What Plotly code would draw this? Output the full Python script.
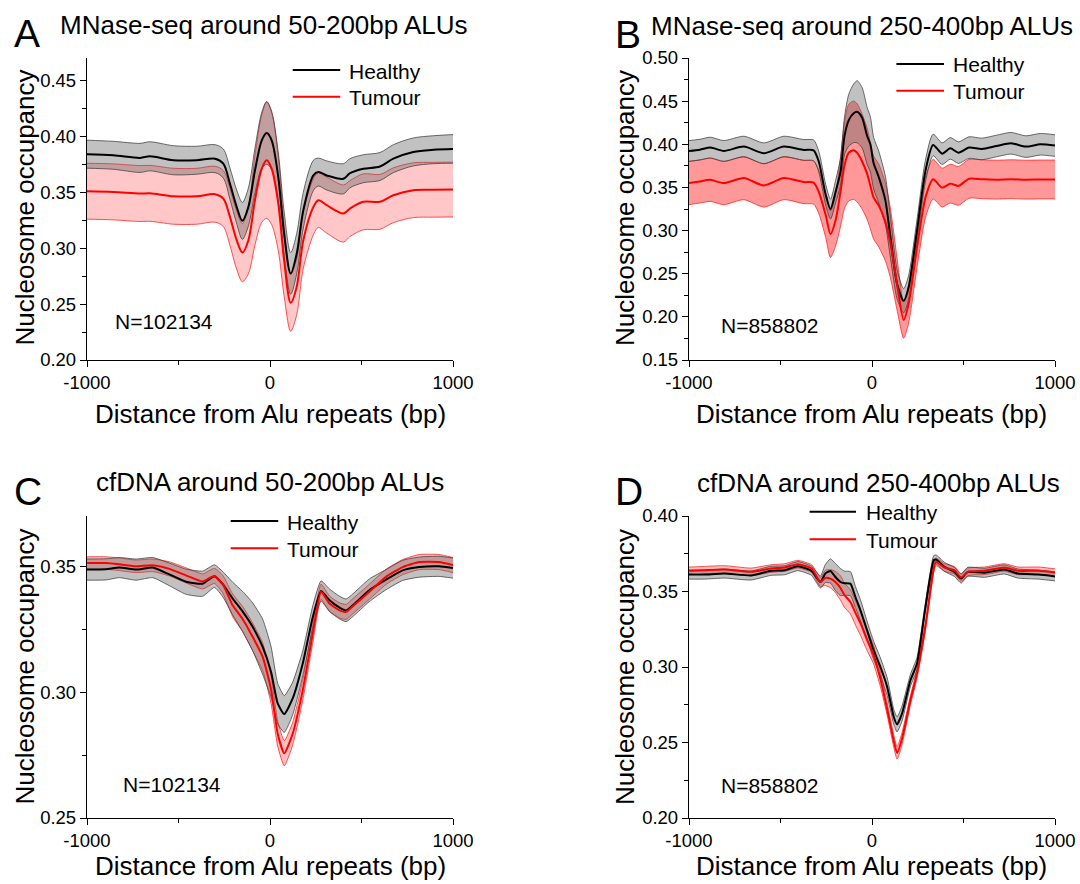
import plotly.graph_objects as go

W, H = 1080, 884
FONT = "Arial, 'Liberation Sans', Helvetica, sans-serif"


def px(x):
    return x / W


def py(y):
    return 1 - y / H


# ---------------- Panel A : MNase-seq around 50-200bp ALUs ----------------
xA = [-1000, -856, -710, -656, -528, -400, -300, -255, -219, -182, -151, -118, -82, -45, -18, 9,
      45, 77, 113, 146, 182, 237, 264, 310, 401, 437, 510, 601, 674, 783, 893, 1000]
healthyA = [0.384, 0.383, 0.3807, 0.3821, 0.3786, 0.3786, 0.380, 0.3756, 0.3577, 0.3369, 0.3244,
            0.3369, 0.3696, 0.3964, 0.403, 0.3964, 0.3637, 0.313, 0.2774, 0.2952, 0.3339, 0.365,
            0.368, 0.365, 0.362, 0.367, 0.371, 0.373, 0.380, 0.386, 0.388, 0.3887]
healthyA_err = [0.0125, 0.0125, 0.013, 0.013, 0.013, 0.0125, 0.0125, 0.013, 0.014, 0.015, 0.0165,
                0.017, 0.02, 0.025, 0.028, 0.026, 0.022, 0.02, 0.0186, 0.018, 0.016, 0.0135,
                0.0125, 0.013, 0.0135, 0.013, 0.0125, 0.0125, 0.0125, 0.0125, 0.0125, 0.0128]
tumourA = [0.3509, 0.3503, 0.3488, 0.349, 0.3464, 0.3464, 0.3482, 0.3443, 0.328, 0.3071, 0.296,
           0.3071, 0.3429, 0.3711, 0.3786, 0.3711, 0.34, 0.2893, 0.2512, 0.2655, 0.3071, 0.3369,
           0.3429, 0.3384, 0.331, 0.3354, 0.3414, 0.3414, 0.3473, 0.3518, 0.3522, 0.3524]
tumourA_err = [0.025, 0.025, 0.025, 0.025, 0.025, 0.025, 0.025, 0.025, 0.0255, 0.026, 0.026,
               0.03, 0.04, 0.048, 0.052, 0.05, 0.042, 0.032, 0.0255, 0.025, 0.025, 0.025,
               0.0245, 0.025, 0.0255, 0.025, 0.025, 0.0245, 0.0245, 0.0245, 0.0245, 0.0245]

# ---------------- Panel B : MNase-seq around 250-400bp ALUs ----------------
xB = [-1000, -940, -883, -810, -700, -591, -482, -373, -319, -291, -253, -227, -199, -172, -150,
      -127, -100, -81, -54, -27, -9, 9, 37, 73, 101, 137, 173, 200, 246, 292, 334, 383, 428, 473,
      530, 600, 680, 760, 840, 920, 1000]
healthyB = [0.3923, 0.3938, 0.3962, 0.3923, 0.3973, 0.3896, 0.3973, 0.3935, 0.3930, 0.380,
            0.3415, 0.3248, 0.345, 0.368, 0.41, 0.428, 0.436, 0.4377, 0.4308, 0.410,
            0.400, 0.378, 0.362, 0.335, 0.292, 0.238, 0.2186, 0.234, 0.2997, 0.3691,
            0.3992, 0.3891, 0.3953, 0.3903, 0.3962, 0.3946, 0.398, 0.4012, 0.3973, 0.400,
            0.3985]
healthyB_err = [0.012, 0.012, 0.012, 0.012, 0.012, 0.012, 0.012, 0.012, 0.012, 0.012,
                0.012, 0.0115, 0.013, 0.016, 0.022, 0.03, 0.034, 0.036, 0.035, 0.033,
                0.032, 0.03, 0.03, 0.028, 0.024, 0.017, 0.014, 0.014, 0.013, 0.0125,
                0.0125, 0.0125, 0.0125, 0.0125, 0.0125, 0.0125, 0.0125, 0.0125, 0.0125, 0.0125,
                0.0125]
tumourB = [0.355, 0.357, 0.3588, 0.355, 0.3608, 0.3523, 0.3608, 0.3562, 0.3556, 0.345,
           0.318, 0.2958, 0.312, 0.345, 0.376, 0.3903, 0.3931, 0.390, 0.380, 0.366,
           0.352, 0.3382, 0.329, 0.310, 0.285, 0.238, 0.1963, 0.2148, 0.2803, 0.3382,
           0.3595, 0.3498, 0.3544, 0.3518, 0.360, 0.3595, 0.359, 0.3595, 0.359, 0.3592,
           0.3592]
tumourB_err = [0.025, 0.025, 0.025, 0.025, 0.025, 0.025, 0.025, 0.025, 0.025, 0.025,
               0.026, 0.027, 0.03, 0.04, 0.05, 0.056, 0.057, 0.057, 0.055, 0.053,
               0.05, 0.048, 0.048, 0.045, 0.04, 0.03, 0.021, 0.022, 0.023, 0.0235,
               0.023, 0.0225, 0.0225, 0.0225, 0.0225, 0.0225, 0.0225, 0.0225, 0.0225, 0.0225,
               0.0225]

# ---------------- Panel C : cfDNA around 50-200bp ALUs ----------------
xC = [-1000, -896, -823, -732, -641, -550, -459, -368, -304, -258, -204, -149, -95, -40, 6, 42,
      78, 124, 179, 234, 279, 325, 380, 416, 452, 543, 634, 725, 816, 923, 1000]
healthyC = [0.3487, 0.3488, 0.3495, 0.3487, 0.3495, 0.3468, 0.3439, 0.3431, 0.3461, 0.3429,
            0.3372, 0.332, 0.326, 0.318, 0.308, 0.2955, 0.2913, 0.2975, 0.3114, 0.3299,
            0.3402, 0.3365, 0.3336, 0.3325, 0.3345, 0.3405, 0.3447, 0.3484, 0.3497, 0.35,
            0.3493]
healthyC_err = [0.0042, 0.0042, 0.004, 0.0042, 0.004, 0.0045, 0.005, 0.005, 0.0045, 0.005,
                0.0065, 0.008, 0.0095, 0.011, 0.01, 0.008, 0.0073, 0.0065, 0.005, 0.0045,
                0.004, 0.0045, 0.0045, 0.0045, 0.0045, 0.0045, 0.004, 0.004, 0.004, 0.004,
                0.004]
tumourC = [0.3513, 0.3513, 0.3508, 0.35, 0.3504, 0.349, 0.3464, 0.344, 0.3462, 0.3429,
           0.3345, 0.329, 0.322, 0.314, 0.301, 0.2835, 0.2757, 0.2835, 0.3008, 0.3233,
           0.3399, 0.3352, 0.3325, 0.3319, 0.3341, 0.3399, 0.3458, 0.3497, 0.3517, 0.3517,
           0.3505]
tumourC_err = [0.0025, 0.0025, 0.0025, 0.0025, 0.0025, 0.0028, 0.003, 0.003, 0.003, 0.0035,
               0.0045, 0.005, 0.0055, 0.0055, 0.0055, 0.005, 0.005, 0.0045, 0.004, 0.0035,
               0.003, 0.003, 0.003, 0.003, 0.003, 0.003, 0.003, 0.003, 0.003, 0.003,
               0.003]

# ---------------- Panel D : cfDNA around 250-400bp ALUs ----------------
xD = [-1000, -916, -806, -661, -552, -477, -405, -330, -282, -255, -227, -200, -173, -150, -118,
      -91, -63, -27, 9, 46, 83, 119, 137, 164, 210, 246, 292, 337, 350, 396, 450, 487, 523, 615,
      724, 797, 910, 1000]
healthyD = [0.3612, 0.3612, 0.3619, 0.3606, 0.3637, 0.3641, 0.3668, 0.3637, 0.3563, 0.3619,
            0.3636, 0.3596, 0.3563, 0.3555, 0.3552, 0.3464, 0.3375, 0.3243, 0.311, 0.300,
            0.2868, 0.2669, 0.262, 0.2691, 0.2912, 0.3023, 0.3397, 0.3707, 0.3712, 0.3663,
            0.363, 0.3586, 0.363, 0.3624, 0.3646, 0.3619, 0.3612, 0.360]
healthyD_err = [0.003, 0.003, 0.003, 0.003, 0.003, 0.003, 0.003, 0.003, 0.004, 0.006,
                0.008, 0.009, 0.009, 0.008, 0.008, 0.007, 0.007, 0.006, 0.006, 0.006,
                0.006, 0.005, 0.005, 0.005, 0.004, 0.004, 0.003, 0.003, 0.003, 0.003,
                0.003, 0.003, 0.003, 0.003, 0.003, 0.003, 0.003, 0.003]
tumourD = [0.3637, 0.3641, 0.3646, 0.363, 0.3652, 0.3659, 0.3681, 0.3652, 0.3563, 0.359,
           0.3585, 0.3563, 0.3525, 0.3475, 0.3431, 0.336, 0.329, 0.318, 0.308, 0.292,
           0.272, 0.251, 0.243, 0.2525, 0.278, 0.2956, 0.327, 0.365, 0.3696, 0.3659,
           0.3641, 0.3593, 0.363, 0.3637, 0.3659, 0.3637, 0.3637, 0.3625]
tumourD_err = [0.0025, 0.0025, 0.0025, 0.0025, 0.0025, 0.0025, 0.0025, 0.0025, 0.003, 0.005,
               0.006, 0.007, 0.008, 0.008, 0.008, 0.008, 0.008, 0.007, 0.006, 0.005,
               0.004, 0.004, 0.004, 0.004, 0.003, 0.003, 0.0025, 0.0025, 0.0025, 0.0025,
               0.0025, 0.0025, 0.0025, 0.0025, 0.0025, 0.0025, 0.0025, 0.0025]

series_names = ["Healthy", "Tumour"]
panel_titles = ["MNase-seq around 50-200bp ALUs", "MNase-seq around 250-400bp ALUs",
                "cfDNA around 50-200bp ALUs", "cfDNA around 250-400bp ALUs"]
panel_letters = ["A", "B", "C", "D"]
n_labels = ["N=102134", "N=858802", "N=102134", "N=858802"]
y_ranges = [[0.20, 0.47], [0.15, 0.50], [0.25, 0.37], [0.20, 0.40]]
x_title = "Distance from Alu repeats (bp)"
y_title = "Nucleosome occupancy"

panels = [
    dict(x=xA, h=healthyA, he=healthyA_err, t=tumourA, te=tumourA_err, ax="", tfill="rgba(255,0,0,0.22)", sm=0.9),
    dict(x=xB, h=healthyB, he=healthyB_err, t=tumourB, te=tumourB_err, ax="2", tfill="rgba(255,0,0,0.40)", sm=0.7),
    dict(x=xC, h=healthyC, he=healthyC_err, t=tumourC, te=tumourC_err, ax="3", tfill="rgba(255,0,0,0.25)", sm=0.5),
    dict(x=xD, h=healthyD, he=healthyD_err, t=tumourD, te=tumourD_err, ax="4", tfill="rgba(255,0,0,0.25)", sm=0.5),
]

fig = go.Figure()

for p in panels:
    xa, ya = "x" + p["ax"], "y" + p["ax"]
    sm = p["sm"]
    # tumour band
    t_lo = [m - e for m, e in zip(p["t"], p["te"])]
    t_hi = [m + e for m, e in zip(p["t"], p["te"])]
    fig.add_trace(go.Scatter(x=p["x"], y=t_lo, mode="lines", xaxis=xa, yaxis=ya,
                             line=dict(color="rgba(255,40,40,0.8)", width=1, shape="spline", smoothing=sm),
                             showlegend=False, hoverinfo="skip"))
    fig.add_trace(go.Scatter(x=p["x"], y=t_hi, mode="lines", xaxis=xa, yaxis=ya, fill="tonexty",
                             fillcolor=p["tfill"],
                             line=dict(color="rgba(255,40,40,0.8)", width=1, shape="spline", smoothing=sm),
                             showlegend=False, hoverinfo="skip"))
    # healthy band
    h_lo = [m - e for m, e in zip(p["h"], p["he"])]
    h_hi = [m + e for m, e in zip(p["h"], p["he"])]
    fig.add_trace(go.Scatter(x=p["x"], y=h_lo, mode="lines", xaxis=xa, yaxis=ya,
                             line=dict(color="rgba(60,60,60,0.75)", width=1, shape="spline", smoothing=sm),
                             showlegend=False, hoverinfo="skip"))
    fig.add_trace(go.Scatter(x=p["x"], y=h_hi, mode="lines", xaxis=xa, yaxis=ya, fill="tonexty",
                             fillcolor="rgba(100,100,100,0.40)",
                             line=dict(color="rgba(60,60,60,0.75)", width=1, shape="spline", smoothing=sm),
                             showlegend=False, hoverinfo="skip"))
    # means
    fig.add_trace(go.Scatter(x=p["x"], y=p["h"], mode="lines", xaxis=xa, yaxis=ya, name=series_names[0],
                             line=dict(color="black", width=2, shape="spline", smoothing=sm),
                             showlegend=False))
    fig.add_trace(go.Scatter(x=p["x"], y=p["t"], mode="lines", xaxis=xa, yaxis=ya, name=series_names[1],
                             line=dict(color="#ff0000", width=2, shape="spline", smoothing=sm),
                             showlegend=False))

x_domains = [[87 / W, 453 / W], [689 / W, 1055 / W], [87 / W, 453 / W], [689 / W, 1055 / W]]
y_domains = [[py(360), py(58)], [py(360), py(58)], [py(818), py(516)], [py(818), py(516)]]

tickfont = dict(size=18.5, family=FONT, color="black")
layout = dict(template="none", width=W, height=H,
              margin=dict(l=0, r=0, t=0, b=0, pad=0, autoexpand=False), autosize=False,
              paper_bgcolor="white", plot_bgcolor="white", showlegend=False,
              font=dict(family=FONT, color="black"))
for i, suf in enumerate(["", "2", "3", "4"]):
    layout["xaxis" + suf] = dict(
        domain=x_domains[i], anchor="y" + suf, range=[-1000, 1000], automargin=False,
        tickmode="array", tickvals=[-1000, 0, 1000], ticktext=["-1000", "0", "1000"],
        showline=True, linecolor="black", linewidth=1.3, ticks="outside", ticklen=6,
        tickwidth=1.3, tickcolor="black", showgrid=False, zeroline=False, tickfont=tickfont,
        minor=dict(tickmode="array", tickvals=[-500, 500], ticks="outside", ticklen=3.5,
                   tickwidth=1.2, tickcolor="black", showgrid=False),
        fixedrange=True)
    layout["yaxis" + suf] = dict(
        domain=y_domains[i], anchor="x" + suf, range=y_ranges[i], automargin=False,
        tickmode="linear", tick0=0, dtick=0.05, tickformat=".2f",
        showline=True, linecolor="black", linewidth=1.3, ticks="outside", ticklen=6,
        tickwidth=1.3, tickcolor="black", showgrid=False, zeroline=False, tickfont=tickfont,
        minor=dict(tick0=0, dtick=0.025, ticks="outside", ticklen=3.5, tickwidth=1.2,
                   tickcolor="black", showgrid=False),
        fixedrange=True)
fig.update_layout(**layout)

ann = []
shapes = []


def text(t, x, y, size, xanchor="center", yanchor="middle", angle=0):
    ann.append(dict(text=t, x=px(x), y=py(y), xref="paper", yref="paper", showarrow=False,
                    xanchor=xanchor, yanchor=yanchor, textangle=angle,
                    font=dict(size=size, family=FONT, color="black")))


title_pos = [(263.6, 25), (862, 26), (269.6, 482.5), (878, 483)]
letter_pos = [(26.7, 34), (627.9, 35), (27.5, 491.7), (628.8, 491.5)]
xtitle_pos = [(270.5, 414), (871.5, 414), (270.5, 866), (871.5, 866)]
ytitle_pos = [(24.5, 208), (625, 208), (24.5, 667), (625, 667)]
n_pos = [(113.3, 321.5), (719, 325), (121.2, 784), (719, 785.5)]
legend_pos = [(292.7, 340.2, 70, 96.7, 346.7), (896.4, 944, 64, 90.7, 950.8),
              (230.7, 278.2, 521, 548.3, 285), (809.6, 856, 511.7, 539.3, 863.7)]

for i in range(4):
    text(panel_titles[i], *title_pos[i], 26)
    text(panel_letters[i], *letter_pos[i], 39)
    text(x_title, *xtitle_pos[i], 26)
    text(y_title, *ytitle_pos[i], 26, angle=-90)
    text(n_labels[i], *n_pos[i], 21, xanchor="left")
    x0, x1, y1, y2, xt = legend_pos[i]
    for yy, col, name in [(y1, "black", series_names[0]), (y2, "#ff0000", series_names[1])]:
        shapes.append(dict(type="line", xref="paper", yref="paper", x0=px(x0), x1=px(x1),
                           y0=py(yy), y1=py(yy), line=dict(color=col, width=2)))
        text(name, xt, yy + 1, 21, xanchor="left")

fig.update_layout(annotations=ann, shapes=shapes)
fig.write_html("out.html")
